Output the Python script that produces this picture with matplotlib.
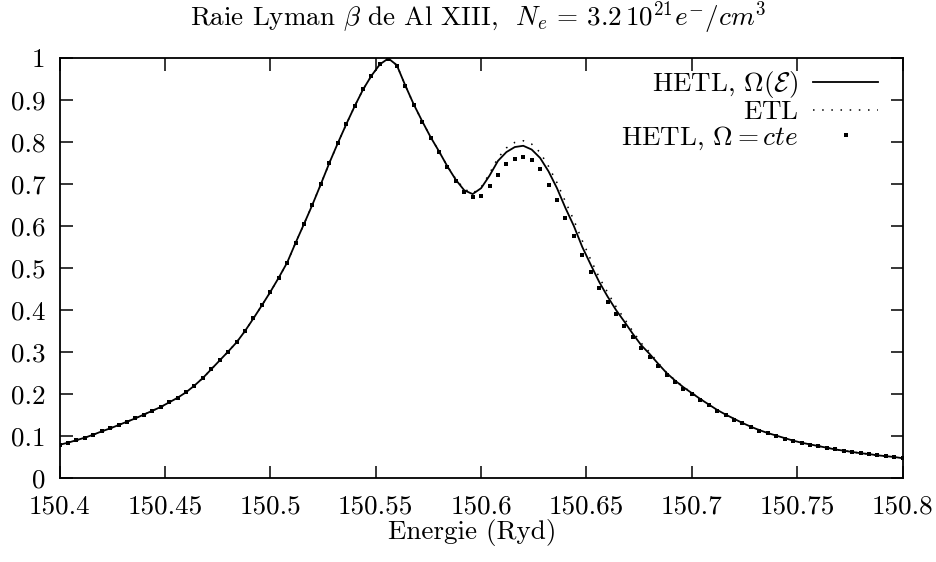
import matplotlib
matplotlib.use('Agg')
import matplotlib.pyplot as plt
import numpy as np

plt.rcParams['font.family']='serif'
plt.rcParams['font.serif']=['cmr10']
plt.rcParams['mathtext.fontset']='cm'
plt.rcParams['axes.formatter.use_mathtext']=True

# energie (Ryd), pas de 0.004
energie=np.round(np.arange(150.4,150.8001,0.004),3)

# HETL, Omega(E)  (trait plein)
hetl=[0.079,0.084,0.090,0.096,0.103,0.111,0.118,0.126,0.134,0.142,
      0.151,0.160,0.169,0.180,0.191,0.204,0.220,0.238,0.259,0.280,
      0.301,0.323,0.350,0.380,0.411,0.443,0.477,0.513,0.560,0.605,
      0.651,0.700,0.750,0.797,0.842,0.885,0.925,0.958,0.985,0.999,
      0.983,0.935,0.890,0.850,0.812,0.778,0.742,0.710,0.685,0.676,
      0.690,0.720,0.755,0.776,0.788,0.791,0.782,0.762,0.730,0.690,
      0.643,0.600,0.550,0.508,0.467,0.432,0.400,0.372,0.343,0.316,
      0.295,0.272,0.250,0.232,0.216,0.202,0.188,0.175,0.162,0.151,
      0.141,0.131,0.122,0.114,0.107,0.101,0.095,0.089,0.084,0.080,
      0.076,0.072,0.068,0.065,0.062,0.059,0.057,0.054,0.052,0.050,
      0.047]

# ETL (pointille)
etl=[0.079,0.084,0.090,0.096,0.103,0.111,0.118,0.126,0.134,0.142,
     0.151,0.160,0.169,0.180,0.191,0.204,0.220,0.238,0.259,0.280,
     0.301,0.323,0.350,0.380,0.411,0.443,0.477,0.513,0.560,0.605,
     0.651,0.700,0.750,0.797,0.842,0.885,0.925,0.958,0.985,0.999,
     0.983,0.935,0.890,0.850,0.812,0.778,0.742,0.712,0.688,0.678,
     0.692,0.725,0.762,0.786,0.799,0.803,0.795,0.775,0.742,0.703,
     0.658,0.614,0.565,0.520,0.478,0.442,0.408,0.379,0.349,0.321,
     0.299,0.274,0.251,0.233,0.217,0.203,0.188,0.175,0.162,0.151,
     0.141,0.131,0.122,0.114,0.107,0.101,0.095,0.089,0.084,0.080,
     0.076,0.072,0.068,0.065,0.062,0.059,0.057,0.054,0.052,0.050,
     0.047]

# HETL, Omega=cte (points)
hetl_cte=[0.079,0.084,0.090,0.096,0.103,0.111,0.118,0.126,0.134,0.142,
          0.151,0.160,0.169,0.180,0.191,0.204,0.220,0.238,0.259,0.280,
          0.301,0.323,0.350,0.380,0.411,0.443,0.477,0.513,0.560,0.605,
          0.651,0.700,0.750,0.797,0.842,0.885,0.925,0.958,0.985,0.997,
          0.981,0.933,0.888,0.848,0.810,0.776,0.740,0.708,0.680,0.668,
          0.672,0.695,0.722,0.748,0.760,0.765,0.757,0.735,0.698,0.662,
          0.620,0.575,0.530,0.490,0.452,0.420,0.390,0.362,0.335,0.309,
          0.288,0.266,0.245,0.228,0.212,0.199,0.186,0.173,0.160,0.149,
          0.139,0.130,0.121,0.113,0.106,0.100,0.094,0.088,0.083,0.079,
          0.075,0.071,0.068,0.065,0.062,0.059,0.057,0.054,0.052,0.050,
          0.047]

xticks=[150.4,150.45,150.5,150.55,150.6,150.65,150.7,150.75,150.8]
xlabels=['150.4','150.45','150.5','150.55','150.6','150.65','150.7','150.75','150.8']
yticks=[0,0.1,0.2,0.3,0.4,0.5,0.6,0.7,0.8,0.9,1]
ylabels=['0','0.1','0.2','0.3','0.4','0.5','0.6','0.7','0.8','0.9','1']

fs=19.5
fig=plt.figure(figsize=(9.36,5.62),dpi=100)
ax=fig.add_axes([0.0636,0.1495,0.9008,0.7473])

ax.plot(energie,hetl,c='k',lw=1.3,label=r'HETL, $\Omega(\mathcal{E})$')
ax.plot(energie,etl,c='k',lw=1.1,ls=(0,(1,5)),label=r'$\mathrm{ETL}$')
ax.plot(energie,hetl_cte,ls='none',marker='s',ms=2.5,mew=0,c='k',label=r'HETL, $\Omega = cte$')

ax.set_xlim(150.4,150.8)
ax.set_ylim(0,1)
ax.set_xticks(xticks)
ax.set_xticklabels(xlabels)
ax.set_yticks(yticks)
ax.set_yticklabels(ylabels)
ax.tick_params(direction='in',top=True,right=True,length=9,width=1.1,labelsize=fs)
ax.tick_params(axis='x',pad=11.8)
ax.tick_params(axis='y',pad=10)
for s in ax.spines.values():
    s.set_linewidth(1.3)

leg=ax.legend(loc='upper right',bbox_to_anchor=(0.971,0.973),frameon=False,fontsize=fs,
              markerfirst=False,numpoints=1,handlelength=2.4,handletextpad=0.55,
              borderpad=0,borderaxespad=0,labelspacing=0.0)

fig.text(190/936,1-18/562,r'Raie Lyman $\beta$ de Al XIII,  $N_e\,=\,3.2\,10^{21} e^{-}/cm^3$',
         ha='left',va='center',fontsize=fs)
fig.text(472/936,1-533/562,'Energie (Ryd)',ha='center',va='center',fontsize=fs)

fig.savefig('out.png',dpi=100)
